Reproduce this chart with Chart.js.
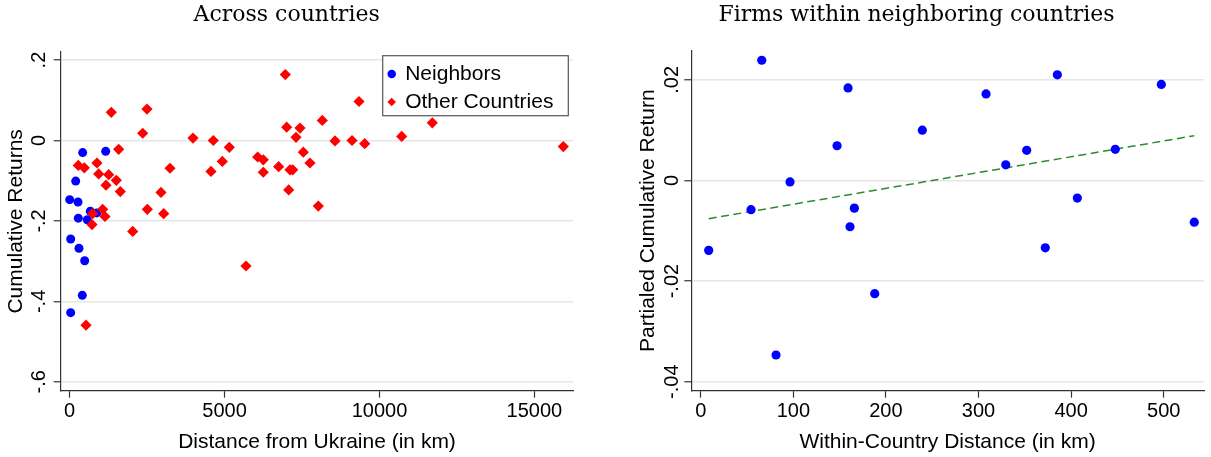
<!DOCTYPE html>
<html><head><meta charset="utf-8">
<script src="https://cdn.jsdelivr.net/npm/chart.js@4.4.1/dist/chart.umd.min.js"></script>
<style>
html,body{margin:0;padding:0;background:#fff;width:1211px;height:457px;overflow:hidden}
#left{position:absolute;left:0;top:0;width:580px;height:457px}
#right{position:absolute;left:629px;top:0;width:582px;height:457px}
</style></head><body>
<div id="left"><canvas id="c1"></canvas></div>
<div id="right"><canvas id="c2"></canvas></div>
<script>
// ---------- Data: Across countries ----------
const neighborDist = [0, 32, 32, 194, 268, 278, 300, 407, 419, 484, 568, 666, 872, 1162];
const neighborRet  = [-0.147, -0.245, -0.428, -0.101, -0.153, -0.193, -0.268, -0.385, -0.030, -0.299, -0.197, -0.176, -0.180, -0.027];

const otherDist = [278, 472, 526, 720, 742, 881, 936, 1065, 1139, 1172, 1259, 1343, 1505, 1582, 1634,
  2034, 2356, 2495, 2506, 2947, 3034, 3238, 3980, 4561, 4635, 4926, 5152, 5691, 6068, 6249, 6249,
  6745, 6960, 7004, 7069, 7111, 7198, 7305, 7434, 7541, 7756, 8025, 8154, 8564, 9113, 9338, 9522,
  10716, 11704, 15933];
const otherRet = [-0.062, -0.068, -0.459, -0.209, -0.182, -0.056, -0.083, -0.171, -0.189, -0.111, -0.085, 0.070, -0.099, -0.022, -0.127,
  -0.226, 0.018, 0.078, -0.171, -0.129, -0.182, -0.069, 0.006, -0.077, 0.000, -0.052, -0.017, -0.312, -0.041, -0.048, -0.079,
  -0.065, 0.164, 0.033, -0.123, -0.073, -0.073, 0.008, 0.031, -0.029, -0.056, -0.163, 0.050, -0.001, 0.000, 0.097, -0.008,
  0.010, 0.044, -0.015];

const leftXTicks = [0, 5000, 10000, 15000];
const leftXTickLabels = ['0', '5000', '10000', '15000'];
const leftYTicks = [0.2, 0, -0.2, -0.4, -0.6];
const leftYTickLabels = ['.2', '0', '-.2', '-.4', '-.6'];

// ---------- Data: Firms within neighboring countries ----------
const firmDist = [8.6, 54.3, 65.9, 81.3, 96.4, 147.2, 159.1, 161.2, 165.9, 187.9,
  239.3, 308.1, 329.4, 352.0, 372.1, 385.1, 406.7, 447.7, 497.4, 533.0];
const firmRet = [-0.0139, -0.0058, 0.0239, -0.0347, -0.0003, 0.0069, 0.0184, -0.0092, -0.0055, -0.0225,
  0.0100, 0.0172, 0.0031, 0.0060, -0.0134, 0.0210, -0.0035, 0.0062, 0.0191, -0.0083];
const fitDist = [8.6, 533.0];
const fitRet = [-0.0076, 0.0089];

const rightXTicks = [0, 100, 200, 300, 400, 500];
const rightXTickLabels = ['0', '100', '200', '300', '400', '500'];
const rightYTicks = [0.02, 0, -0.02, -0.04];
const rightYTickLabels = ['.02', '0', '-.02', '-.04'];

// ---------- Helpers ----------
const pts = (xs, ys) => xs.map((x, i) => ({x: x, y: ys[i]}));
const FONT = '"Liberation Sans", Arial, Helvetica, sans-serif';
Chart.defaults.font.family = FONT;
Chart.defaults.color = '#000';
const DARK = '#333333';
const GRID = '#e6e6e6';

function xScale(min, max, ticks, labels, title) {
  return {
    type: 'linear', position: 'bottom', min: min, max: max,
    afterBuildTicks: s => { s.ticks = ticks.map(v => ({value: v})); },
    afterFit: s => { s.height = 66.3; },
    ticks: { autoSkip: false, maxRotation: 0, minRotation: 0, padding: 2, color: '#000',
      font: {size: 20, family: FONT},
      callback: v => labels[ticks.indexOf(v)] },
    grid: { drawOnChartArea: false, drawTicks: true, tickLength: 7, tickColor: DARK, tickWidth: 1.2 },
    border: { display: true, color: DARK, width: 1.2 },
    title: { display: true, text: title, color: '#000', font: {size: 21, family: FONT}, padding: {top: 0, bottom: 1.8} }
  };
}
function yScale(min, max, ticks, labels, title, width, tickPad, titlePad) {
  return {
    type: 'linear', position: 'left', min: min, max: max,
    afterBuildTicks: s => { s.ticks = ticks.map(v => ({value: v})); },
    afterFit: s => { s.width = width; },
    ticks: { autoSkip: false, minRotation: 90, maxRotation: 90, crossAlign: 'center', padding: tickPad,
      color: '#000', font: {size: 20, family: FONT},
      callback: v => labels[ticks.indexOf(v)] },
    grid: { color: GRID, lineWidth: 1.5, drawTicks: true, tickLength: 7, tickColor: DARK, tickWidth: 1.2 },
    border: { display: true, color: DARK, width: 1.2 },
    title: { display: true, text: title, color: '#000', font: {size: 21, family: FONT}, padding: {top: titlePad, bottom: 0} }
  };
}

const legendBoxPlugin = {
  id: 'legendBox',
  afterLayout(chart) {
    const lg = chart.legend;
    if (!lg || !lg.options || !lg.options.display) return;
    const ca = chart.chartArea;
    const bw = 185.6, bh = 60;
    const bx = ca.right - 5 - bw, by = ca.top + 3.7;
    lg._box = {x: bx, y: by, w: bw, h: bh};
    lg.left = bx - 1; lg.top = by + 0.8;
    lg.right = lg.left + lg.width; lg.bottom = lg.top + lg.height;
    if (!lg._wrapped) {
      const od = lg.draw;
      lg.draw = function(...args) {
        const c = this.ctx, b = this._box;
        c.save();
        c.fillStyle = '#ffffff'; c.strokeStyle = '#555555'; c.lineWidth = 1.2;
        c.fillRect(b.x, b.y, b.w, b.h); c.strokeRect(b.x, b.y, b.w, b.h);
        c.restore();
        return od.apply(this, args);
      };
      lg._wrapped = true;
    }
  }
};

// ---------- Left chart ----------
new Chart(document.getElementById('c1'), {
  type: 'scatter',
  data: {
    datasets: [
      { label: 'Neighbors', data: pts(neighborDist, neighborRet), order: 1,
        backgroundColor: '#0000ff', borderColor: '#0000ff', borderWidth: 0,
        pointStyle: 'circle', pointRadius: 4.5, pointHoverRadius: 4.5 },
      { label: 'Other Countries', data: pts(otherDist, otherRet), order: 0,
        backgroundColor: '#ff0000', borderColor: '#ff0000', borderWidth: 0,
        pointStyle: 'rectRot', pointRadius: 5.6, pointHoverRadius: 5.6 }
    ]
  },
  options: {
    responsive: true, maintainAspectRatio: false, animation: false,
    layout: { padding: {left: 0, right: 6.7, top: 0, bottom: 0} },
    scales: {
      x: xScale(-290, 16255, leftXTicks, leftXTickLabels, 'Distance from Ukraine (in km)'),
      y: yScale(-0.622, 0.22, leftYTicks, leftYTickLabels, 'Cumulative Returns', 60.7, 2.8, 4.1)
    },
    plugins: {
      title: { display: true, text: 'Across countries', color: '#000',
        font: {family: '"DejaVu Serif", serif', size: 22, weight: 'normal'}, padding: {top: 2.3, bottom: 23.3} },
      legend: { display: true, position: 'chartArea', align: 'start',
        labels: { usePointStyle: true, boxWidth: 6, boxHeight: 6, padding: 7, color: '#000',
          font: {size: 21, family: FONT},
          sort: (a, b) => a.datasetIndex - b.datasetIndex } },
      tooltip: { enabled: false }
    }
  },
  plugins: [legendBoxPlugin]
});

// ---------- Right chart ----------
new Chart(document.getElementById('c2'), {
  type: 'scatter',
  data: {
    datasets: [
      { label: 'Firms', data: pts(firmDist, firmRet),
        backgroundColor: '#0000ff', borderColor: '#0000ff', borderWidth: 0,
        pointStyle: 'circle', pointRadius: 4.6, pointHoverRadius: 4.6 },
      { type: 'line', label: 'Fitted values', data: pts(fitDist, fitRet),
        borderColor: '#2a8c2a', borderWidth: 1.5, borderDash: [8, 4.5], pointRadius: 0,
        fill: false, showLine: true, tension: 0 }
    ]
  },
  options: {
    responsive: true, maintainAspectRatio: false, animation: false,
    layout: { padding: {left: 0, right: 7, top: 0, bottom: 0} },
    scales: {
      x: xScale(-10.2, 543.5, rightXTicks, rightXTickLabels, 'Within-Country Distance (in km)'),
      y: yScale(-0.0418, 0.0258, rightYTicks, rightYTickLabels, 'Partialed Cumulative Return', 62.3, -5.4, 6.4)
    },
    plugins: {
      title: { display: true, text: 'Firms within neighboring countries', color: '#000',
        font: {family: '"DejaVu Serif", serif', size: 22, weight: 'normal'}, padding: {top: 2.3, bottom: 22} },
      legend: { display: false },
      tooltip: { enabled: false }
    }
  }
});
</script>
</body></html>
